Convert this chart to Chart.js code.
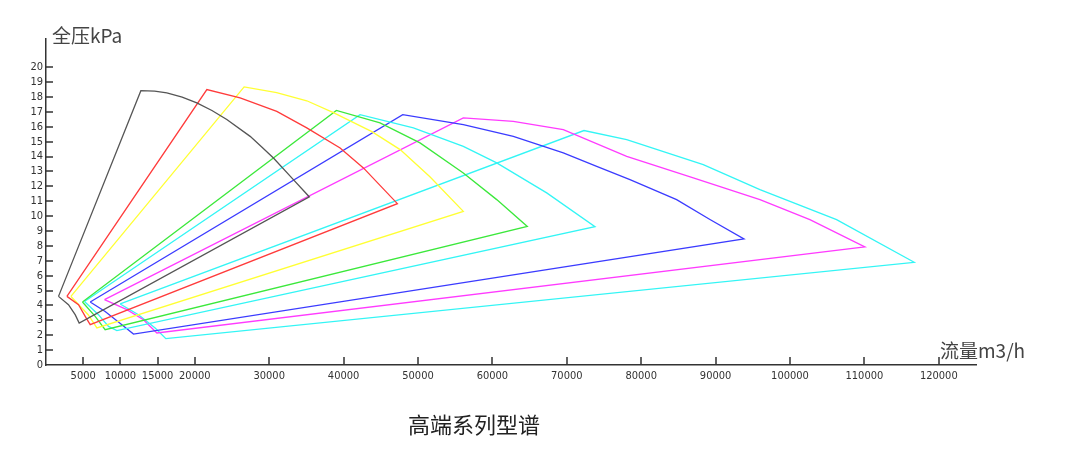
<!DOCTYPE html>
<html>
<head>
<meta charset="utf-8">
<script src="https://cdn.jsdelivr.net/npm/chart.js@4.4.1/dist/chart.umd.min.js"></script>
<style>
  html, body { margin: 0; padding: 0; background: #fff; }
  #wrap { position: relative; width: 1080px; height: 455px; }
  #wrap canvas { position: absolute; left: 0; top: 0; }
  .lbl { position: absolute; white-space: nowrap; font-family: "Noto Sans CJK SC", sans-serif; color: #444; line-height: 1; }
  #yTitle { left: 52px; top: 25px; font-size: 19px; }
  #xTitle { left: 940px; top: 340px; font-size: 19px; }
  #title { left: 408px; top: 412px; font-size: 22px; color: #222; }
</style>
</head>
<body>
<div id="wrap">
  <canvas id="chart" width="1080" height="455"></canvas>
  <div class="lbl" id="yTitle">全压kPa</div>
  <div class="lbl" id="xTitle">流量m3/h</div>
  <div class="lbl" id="title">高端系列型谱</div>
</div>
<script>
// tick labels
const xTicks = [5000, 10000, 15000, 20000, 30000, 40000, 50000, 60000, 70000, 80000, 90000, 100000, 110000, 120000];
const yTicks = [0, 1, 2, 3, 4, 5, 6, 7, 8, 9, 10, 11, 12, 13, 14, 15, 16, 17, 18, 19, 20];

// envelope outlines: flow (m3/h) / total pressure (kPa), traced round each model
const blackFlow = [1680, 12750, 14600, 16240, 18300, 20270, 22300, 24300, 27440, 29000, 30570, 33250, 35400, 4460, 3920, 3020, 1680];
const blackPres = [4.61, 18.43, 18.40, 18.28, 18.00, 17.61, 17.10, 16.49, 15.36, 14.65, 13.91, 12.45, 11.29, 2.82, 3.38, 4.05, 4.61];

const redFlow = [2810, 21620, 26090, 31020, 35050, 39530, 42660, 47230, 5940, 5270, 4370, 2810];
const redPres = [4.61, 18.50, 17.94, 17.04, 15.93, 14.58, 13.24, 10.84, 2.71, 3.27, 4.05, 4.61];

const yellowFlow = [3350, 26630, 31000, 35050, 38630, 43800, 47600, 51600, 56090, 6840, 5670, 3350];
const yellowPres = [4.61, 18.68, 18.30, 17.75, 16.95, 15.68, 14.47, 12.65, 10.32, 2.49, 3.38, 4.61];

const greenFlow = [4900, 39030, 44900, 50270, 56090, 60580, 64690, 7950, 6610, 4900];
const greenPres = [4.23, 17.10, 16.26, 14.92, 12.90, 11.11, 9.31, 2.37, 3.27, 4.23];

const cyanFlow = [5170, 42210, 49380, 56090, 60580, 67300, 73790, 9530, 8400, 7050, 5170];
const cyanPres = [4.27, 16.82, 15.93, 14.69, 13.58, 11.56, 9.29, 2.31, 2.59, 3.38, 4.27];

const blueFlow = [5940, 47950, 56090, 62810, 69530, 74020, 78490, 84760, 89240, 93810, 11760, 10200, 7950, 5940];
const bluePres = [4.23, 16.82, 16.15, 15.36, 14.25, 13.35, 12.45, 11.11, 9.77, 8.47, 2.08, 2.71, 3.60, 4.23];

const magentaFlow = [7860, 56090, 62810, 69530, 78050, 87000, 95960, 102670, 110060, 14900, 13100, 10870, 7860];
const magentaPres = [4.39, 16.60, 16.37, 15.81, 14.02, 12.57, 11.11, 9.77, 7.93, 2.15, 3.04, 3.72, 4.39];

const cyan2Flow = [9970, 72310, 78050, 88340, 95960, 106260, 116690, 16110, 14670, 12430, 9970];
const cyan2Pres = [4.10, 15.75, 15.14, 13.46, 11.78, 9.77, 6.90, 1.77, 2.49, 3.38, 4.10];

const AXIS = '#333';
const TICK_FONT = { family: '"DejaVu Sans Condensed", "Liberation Sans Narrow", sans-serif', size: 11 };

function outline(flow, pres, color) {
  return {
    data: flow.map((f, i) => ({ x: f, y: pres[i] })),
    borderColor: color,
    borderWidth: 1.3,
    showLine: true,
    tension: 0,
    pointRadius: 0,
    fill: false
  };
}

// short tick marks pointing into the plot, like the original drawing
const innerTicks = {
  id: 'innerTicks',
  afterDraw(chart) {
    const { ctx, chartArea, scales } = chart;
    ctx.save();
    ctx.strokeStyle = AXIS;
    ctx.lineWidth = 1.5;
    ctx.beginPath();
    xTicks.forEach(v => {
      const px = Math.round(scales.x.getPixelForValue(v));
      ctx.moveTo(px, chartArea.bottom);
      ctx.lineTo(px, chartArea.bottom - 8);
    });
    yTicks.forEach(v => {
      if (v === 0) return;
      const py = Math.round(scales.y.getPixelForValue(v));
      ctx.moveTo(chartArea.left, py);
      ctx.lineTo(chartArea.left + 7, py);
    });
    ctx.stroke();
    ctx.restore();
  }
};

new Chart(document.getElementById('chart'), {
  type: 'scatter',
  data: {
    datasets: [
      outline(blackFlow, blackPres, '#555555'),
      outline(redFlow, redPres, '#ff3b3b'),
      outline(yellowFlow, yellowPres, '#ffff33'),
      outline(greenFlow, greenPres, '#3be83b'),
      outline(cyanFlow, cyanPres, '#33f5f5'),
      outline(blueFlow, bluePres, '#3b3bff'),
      outline(magentaFlow, magentaPres, '#ff3bff'),
      outline(cyan2Flow, cyan2Pres, '#33f5f5')
    ]
  },
  options: {
    responsive: false,
    animation: false,
    layout: { padding: { top: 39, right: 104, left: 0, bottom: 0 } },
    plugins: { legend: { display: false }, tooltip: { enabled: false } },
    scales: {
      x: {
        type: 'linear',
        min: 0,
        max: 125000,
        grid: { display: false, drawTicks: false },
        border: { display: true, color: AXIS, width: 1.5 },
        afterBuildTicks: s => { s.ticks = xTicks.map(v => ({ value: v })); },
        afterFit: s => { s.height = 90; },
        ticks: { autoSkip: false, maxRotation: 0, padding: 5, color: AXIS, font: TICK_FONT, callback: v => String(v) }
      },
      y: {
        type: 'linear',
        min: 0,
        max: 21.9,
        grid: { display: false, drawTicks: false },
        border: { display: true, color: AXIS, width: 1.5 },
        afterBuildTicks: s => { s.ticks = yTicks.map(v => ({ value: v })); },
        afterFit: s => { s.width = 46; },
        ticks: { autoSkip: false, padding: 3, color: AXIS, font: TICK_FONT, callback: v => String(v) }
      }
    }
  },
  plugins: [innerTicks]
});
</script>
</body>
</html>
